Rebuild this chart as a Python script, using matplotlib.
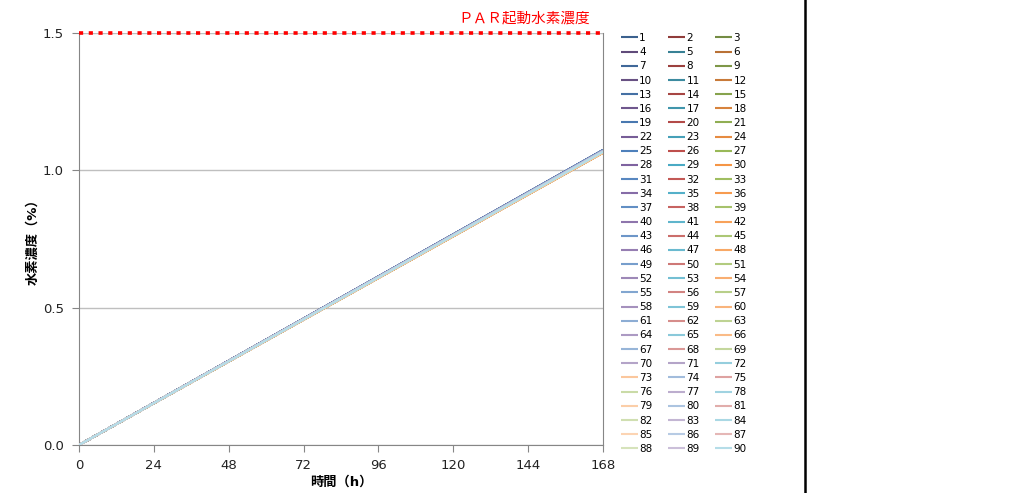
import matplotlib
matplotlib.use("Agg")
import matplotlib.pyplot as plt
from matplotlib.lines import Line2D
import matplotlib.colors as mcolors
import numpy as np

plt.rcParams['font.family'] = ['DejaVu Sans', 'Noto Sans CJK JP']

# data
hours = [0, 168]
start_h2 = 0.0
end_h2 = [
    1.074, 1.070, 1.066, 1.073, 1.069, 1.064, 1.074, 1.070, 1.067, 1.073,
    1.069, 1.065, 1.074, 1.071, 1.066, 1.073, 1.069, 1.064, 1.073, 1.070,
    1.066, 1.072, 1.069, 1.065, 1.073, 1.070, 1.066, 1.072, 1.069, 1.064,
    1.073, 1.070, 1.067, 1.072, 1.069, 1.065, 1.073, 1.070, 1.066, 1.072,
    1.068, 1.064, 1.072, 1.069, 1.066, 1.071, 1.068, 1.064, 1.072, 1.069,
    1.066, 1.071, 1.068, 1.065, 1.072, 1.069, 1.066, 1.071, 1.068, 1.065,
    1.071, 1.068, 1.066, 1.070, 1.068, 1.065, 1.070, 1.068, 1.066, 1.070,
    1.069, 1.068, 1.066, 1.070, 1.068, 1.067, 1.069, 1.068, 1.066, 1.069,
    1.068, 1.067, 1.069, 1.068, 1.066, 1.069, 1.068, 1.067, 1.069, 1.068,
]
series_names = [str(i) for i in range(1, 91)]
par_level = 1.5
par_label = 'ＰＡＲ起動水素濃度'
x_ticks = [0, 24, 48, 72, 96, 120, 144, 168]
y_ticks = [0.0, 0.5, 1.0, 1.5]

# Excel-like palette: base accents, darker first then fading lighter
base = ['#4F81BD', '#C0504D', '#9BBB59', '#8064A2', '#4BACC6', '#F79646']


def shade(hexcol, f):
    c = np.array(mcolors.to_rgb(hexcol))
    if f < 0:
        c = c * (1 + f)
    else:
        c = c + (1 - c) * f
    return tuple(c)


colors = []
for i in range(90):
    fam = i % 6 if i < 70 else (i - 1) % 6
    lvl = i // 6
    f = -0.25 + lvl * 0.06
    colors.append(shade(base[fam], f))

fig = plt.figure(figsize=(10.24, 4.93), dpi=100)
ax = fig.add_axes([79 / 1024, 48 / 493, 524 / 1024, 412 / 493])

handles = []
for i in range(90):
    ln, = ax.plot(hours, [start_h2, end_h2[i]], color=colors[i], lw=1.5,
                  solid_capstyle='butt', label=series_names[i], zorder=3)
    handles.append(ln)

ax.plot([0, 168], [par_level, par_level], color='#FF0000', lw=2.6,
        linestyle=(0, (1.15, 1.55)), dash_capstyle='butt', zorder=5, clip_on=False)
ax.text(163.8, 1.555, par_label, color='#FF0000', fontsize=10.5, ha='right', va='center')

ax.set_xlim(0, 168)
ax.set_ylim(0, 1.5)
ax.set_xticks(x_ticks)
ax.set_yticks(y_ticks)
ax.set_yticklabels(['0.0', '0.5', '1.0', '1.5'])
ax.grid(axis='y', color='#BFBFBF', lw=1, zorder=0)
for s in ['left', 'bottom', 'right']:
    ax.spines[s].set_color('#868686')
ax.spines['top'].set_visible(False)
ax.tick_params(axis='both', direction='out', length=5, color='#868686',
               labelsize=9.5, labelcolor='#222222')
ax.tick_params(axis='y', pad=6)
ax.tick_params(axis='x', pad=5)

ax.set_xlabel('時間（h）', fontsize=9.5, fontweight='bold', labelpad=3)
ax.set_ylabel('水素濃度（%）', fontsize=9.5, fontweight='bold', labelpad=2)

order = handles[0::3] + handles[1::3] + handles[2::3]
fig.legend(order, [h.get_label() for h in order], ncol=3, loc='upper left',
           bbox_to_anchor=(621 / 1024, 1 - 33 / 493), frameon=False,
           fontsize=7.5, handlelength=1.6, handletextpad=0.15,
           labelspacing=0.40, columnspacing=1.5, borderaxespad=0, borderpad=0)

fig.add_artist(Line2D([805 / 1024, 805 / 1024], [0, 1], color='black', lw=1.8,
                      transform=fig.transFigure))

fig.savefig('out.png', dpi=100)
